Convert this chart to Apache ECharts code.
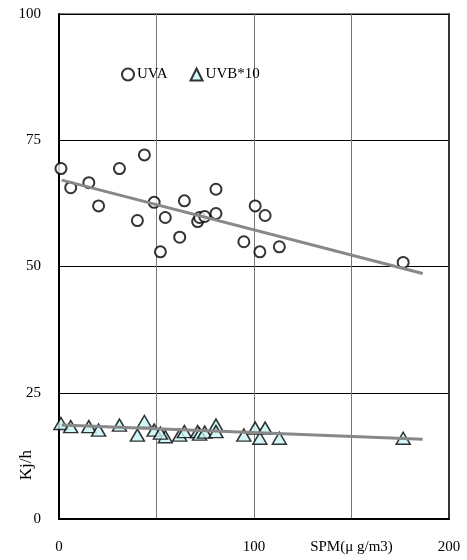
<!DOCTYPE html>
<html>
<head>
<meta charset="utf-8">
<script src="https://cdn.jsdelivr.net/npm/echarts@6/dist/echarts.min.js"></script>
<style>
  html, body { margin: 0; padding: 0; background: #fff; }
  #chart { width: 467px; height: 560px; }
</style>
</head>
<body>
<div id="chart"></div>
<script>
// SPM concentration (μg/m3) for each observation
const spm = [1, 6, 15.3, 20.3, 31, 43.8, 40.2, 48.8, 54.5, 52, 61.9, 64.3, 71.1, 72.1, 74.7, 80.5, 80.5, 94.8, 100.6, 103, 105.7, 113, 176.5];
// UVA irradiance (kJ/h)
const uva = [69.4, 65.6, 66.6, 62.0, 69.4, 72.1, 59.1, 62.7, 59.7, 52.9, 55.8, 63.0, 58.9, 59.7, 59.9, 65.3, 60.5, 54.9, 62.0, 52.9, 60.1, 53.9, 50.8];
// UVB irradiance x10 (kJ/h)
const uvb10 = [18.9, 18.3, 18.3, 17.6, 18.6, 19.3, 16.6, 17.6, 16.3, 17.0, 16.6, 17.3, 17.3, 16.8, 17.2, 18.6, 17.3, 16.6, 18.0, 16.0, 18.0, 16.0, 16.0];
// Linear trend lines, endpoints [spm, value]
const trendUva = [[1.4, 67.1], [186.5, 48.6]];
const trendUvb = [[1.4, 18.6], [186.5, 15.8]];
// Axis tick labels
const xTickLabels = { 0: '0', 100: '100', 150: 'SPM(μ g/m3)', 200: '200' };
const yTicks = [0, 25, 50, 75, 100];

const font = '"Liberation Serif", "DejaVu Serif", serif';

const chart = echarts.init(document.getElementById('chart'), null, { renderer: 'canvas' });

const pair = (xs, ys) => xs.map((x, i) => [x, ys[i]]);

chart.setOption({
  backgroundColor: '#fff',
  animation: false,
  textStyle: { fontFamily: font },
  grid: {
    left: 59, right: 18, top: 14, bottom: 41,
    show: true, borderColor: '#000', borderWidth: 1
  },
  legend: {
    data: ['UVA', 'UVB*10'],
    left: 116, top: 62,
    itemWidth: 12, itemHeight: 12, itemGap: 22,
    textStyle: { fontFamily: font, fontSize: 15, color: '#000', padding: [0, 0, 0, -2] }
  },
  xAxis: {
    type: 'value', min: 0, max: 200, interval: 50,
    axisLine: { show: true, lineStyle: { color: '#000', width: 2 } },
    axisTick: { show: false },
    axisLabel: {
      margin: 21, color: '#000', fontFamily: font, fontSize: 15,
      formatter: v => xTickLabels[v] !== undefined ? xTickLabels[v] : ''
    },
    splitLine: { show: true, lineStyle: { color: '#777', width: 1 } }
  },
  yAxis: [{
    type: 'value', min: 0, max: 100, interval: 25,
    axisLine: { show: true, lineStyle: { color: '#000', width: 2 } },
    axisTick: { show: false },
    axisLabel: {
      margin: 18, color: '#000', fontFamily: font, fontSize: 15,
      formatter: v => yTicks.includes(v) ? String(v) : ''
    },
    splitLine: { show: true, lineStyle: { color: '#000', width: 1 } }
  }, {
    type: 'value', min: 0, max: 100, interval: 25, position: 'right',
    axisLine: { show: true, onZero: false, lineStyle: { color: '#333', width: 2 } },
    axisTick: { show: false }, axisLabel: { show: false }, splitLine: { show: false }
  }],
  graphic: [{
    type: 'text',
    left: 18, top: 450,
    rotation: Math.PI / 2,
    style: { text: 'Kj/h', font: '17px ' + font, fill: '#000' }
  }],
  series: [{
    name: 'UVA', type: 'scatter', data: pair(spm, uva),
    symbol: 'circle', symbolSize: 11, z: 3,
    itemStyle: { color: '#fff', borderColor: '#000', borderWidth: 2 }
  }, {
    name: 'UVB*10', type: 'scatter', data: pair(spm, uvb10),
    symbol: 'triangle', symbolSize: [14, 12], z: 3,
    itemStyle: { color: '#c8f5f5', borderColor: '#000', borderWidth: 1.5 }
  }, {
    name: 'UVA trend', type: 'line', data: trendUva, symbol: 'none', z: 4,
    lineStyle: { color: '#888', width: 3 }
  }, {
    name: 'UVB trend', type: 'line', data: trendUvb, symbol: 'none', z: 4,
    lineStyle: { color: '#888', width: 3 }
  }]
});
</script>
</body>
</html>
